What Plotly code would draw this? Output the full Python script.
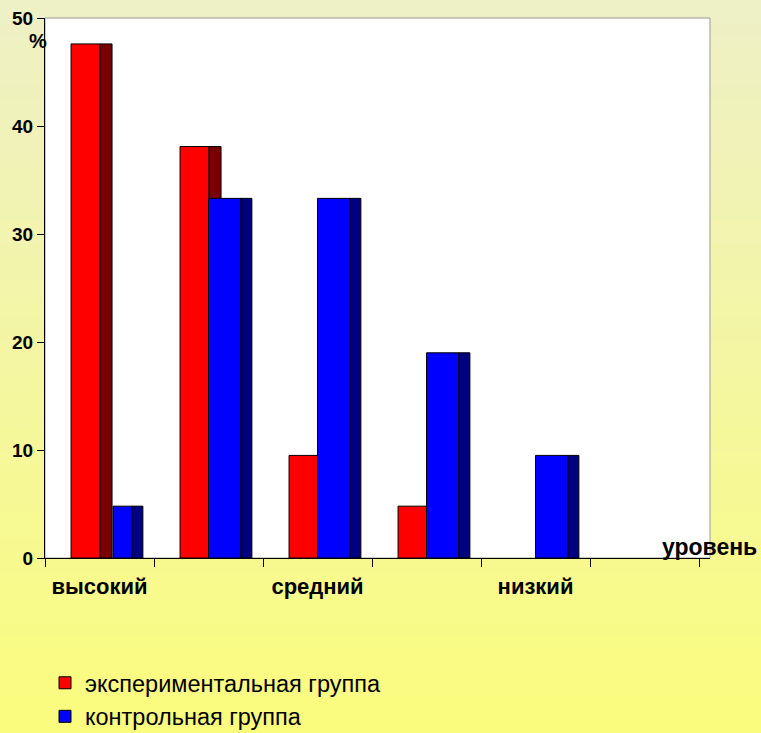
import plotly.graph_objects as go

# ---- data ----
categories = ["высокий", "", "средний", "", "низкий", ""]
exp_values = [47.6, 38.1, 9.5, 4.8, 0, 0]
ctrl_values = [4.8, 33.3, 33.3, 19.0, 9.5, 0]
series_names = ["экспериментальная группа", "контрольная группа"]
y_ticks = [0, 10, 20, 30, 40, 50]

x = list(range(len(categories)))

W, H = 761, 733
L, R, T, B = 45, 51, 18, 175
pw = W - L - R
ph = H - T - B

fig = go.Figure()


def outline(vals):
    return dict(color="black", width=[1 if v > 0 else 0 for v in vals])


# red front
fig.add_trace(go.Bar(x=x, y=exp_values, name=series_names[0], offset=-0.261, width=0.266,
                     marker=dict(color="#FF0000", line=outline(exp_values)), showlegend=True))
# red side
fig.add_trace(go.Bar(x=x, y=exp_values, offset=0.005, width=0.11,
                     marker=dict(color="#7A0000", line=outline(exp_values)), showlegend=False,
                     hoverinfo="skip"))
# blue front
fig.add_trace(go.Bar(x=x, y=ctrl_values, name=series_names[1],
                     offset=[0.124, 0, 0, 0, 0, 0], width=[0.174, 0.298, 0.298, 0.298, 0.298, 0.298],
                     marker=dict(color="#0000FF", line=outline(ctrl_values)), showlegend=True))
# blue side
fig.add_trace(go.Bar(x=x, y=ctrl_values, offset=0.298, width=0.1,
                     marker=dict(color="#000080", line=outline(ctrl_values)), showlegend=False,
                     hoverinfo="skip"))

# background gradient
shapes = []
n = 60
top = (238, 240, 198)
bot = (250, 252, 126)
x0p = -L / pw
x1p = (W - L) / pw
for i in range(n):
    f = i / (n - 1)
    c = tuple(int(round(top[k] + (bot[k] - top[k]) * f)) for k in range(3))
    py0 = i * H / n
    py1 = (i + 1) * H / n + 1
    shapes.append(dict(type="rect", xref="paper", yref="paper", layer="below",
                       x0=x0p, x1=x1p,
                       y0=(T + ph - py1) / ph, y1=(T + ph - py0) / ph,
                       fillcolor="rgb(%d,%d,%d)" % c, line=dict(width=0)))
shapes.append(dict(type="rect", xref="paper", yref="paper", layer="below",
                   x0=0, x1=1, y0=0, y1=1, fillcolor="white",
                   line=dict(color="#9a9a9a", width=1)))

FONT = "Liberation Sans, Arial"

fig.update_layout(
    width=W, height=H,
    margin=dict(l=L, r=R, t=T, b=B, autoexpand=False),
    paper_bgcolor="rgba(0,0,0,0)",
    plot_bgcolor="rgba(0,0,0,0)",
    barmode="overlay",
    shapes=shapes,
    font=dict(family=FONT, color="black"),
    xaxis=dict(range=[-0.5, -0.5 + 665 / 109], tickmode="array", tickvals=x, ticktext=categories,
               ticks="", showgrid=False, zeroline=False, showline=True, linecolor="black", linewidth=1,
               tickfont=dict(size=22, family=FONT, color="black", weight="bold"),
               ticklabelstandoff=9,
               minor=dict(tick0=-0.5, dtick=1, ticks="outside", ticklen=8, tickcolor="black", showgrid=False)),
    yaxis=dict(range=[0, 50], tickmode="array", tickvals=y_ticks, ticks="outside", ticklen=7,
               tickcolor="black", showgrid=False, zeroline=False, showline=True, linecolor="black",
               linewidth=1, tickfont=dict(size=19, family=FONT, color="black", weight="bold")),
    legend=dict(x=0, y=(T + ph - 661) / ph, xanchor="left", yanchor="top",
                bgcolor="rgba(0,0,0,0)", font=dict(size=23.5, family=FONT, color="black"),
                tracegroupgap=0),
    annotations=[
        dict(text="%", xref="paper", yref="paper", x=(38 - L) / pw, y=(T + ph - 41) / ph,
             showarrow=False, font=dict(size=20, family=FONT, weight="bold"),
             xanchor="center", yanchor="middle"),
        dict(text="уровень", xref="paper", yref="paper", x=(759 - L) / pw, y=(T + ph - 547) / ph,
             showarrow=False, font=dict(size=23, family=FONT, weight="bold"),
             xanchor="right", yanchor="middle"),
    ],
)

fig.write_html("out.html", config={"displayModeBar": False},
               post_script="document.body.style.margin='0px';")
